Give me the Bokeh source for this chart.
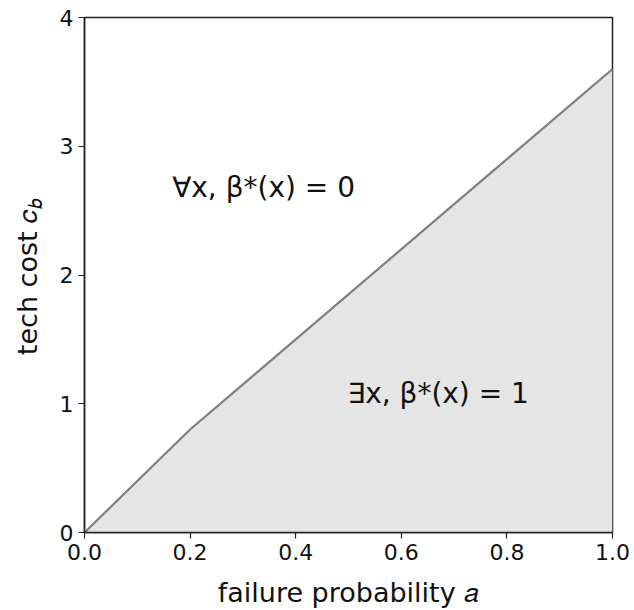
from bokeh.plotting import figure
from bokeh.models import Range1d, FixedTicker, Label
from bokeh.layouts import row
from bokeh.embed import file_html
from bokeh.resources import INLINE
import math

# Boundary between the two regimes: failure probability vs. tech cost
alpha = [0.0, 0.2, 1.0]
cost = [0.0, 0.8, 3.6]
zeros = [0.0, 0.0, 0.0]

x_ticks = [0.0, 0.2, 0.4, 0.6, 0.8, 1.0]
x_tick_labels = ["0.0", "0.2", "0.4", "0.6", "0.8", "1.0"]
y_ticks = [0, 1, 2, 3, 4]

FONT = "DejaVu Sans"
INK = "#111111"
TITLE_W = 50
FRAME_TOP, FRAME_BOTTOM = 17, 533

# narrow strip on the left that carries the y-axis title (c with subscript b);
# its frame lines up with the main frame, so its y range runs in pixels from the top
strip = figure(width=TITLE_W, height=610, output_backend="svg", toolbar_location=None,
               x_range=Range1d(0, TITLE_W), y_range=Range1d(FRAME_BOTTOM, FRAME_TOP),
               min_border=0)
strip.axis.visible = False
strip.grid.visible = False
strip.outline_line_color = None
strip.add_layout(Label(x=27, y=282, text="tech cost 𝑐", angle=math.pi / 2,
                       text_font=FONT, text_font_size="27px", text_color=INK,
                       text_align="center", text_baseline="middle"))
strip.add_layout(Label(x=34.5, y=203, text="𝑏", angle=math.pi / 2,
                       text_font=FONT, text_font_size="19px", text_color=INK,
                       text_align="center", text_baseline="middle"))

p = figure(width=634 - TITLE_W, height=610, output_backend="svg", toolbar_location=None,
           x_range=Range1d(0, 1), y_range=Range1d(0, 4),
           min_border_left=84 - TITLE_W, min_border_right=22,
           min_border_top=FRAME_TOP, min_border_bottom=610 - FRAME_BOTTOM)
p.grid.visible = False
p.background_fill_color = "white"
p.border_fill_color = "white"
p.outline_line_color = "#222222"
p.outline_line_width = 1.5

# shaded region below the boundary
p.varea(x=alpha, y1=zeros, y2=cost, fill_color="#e5e5e5")
p.line(x=alpha, y=cost, line_color="#808080", line_width=2.2)

for ax in (p.xaxis[0], p.yaxis[0]):
    ax.major_tick_out = 6
    ax.major_tick_in = 0
    ax.minor_tick_out = 0
    ax.minor_tick_in = 0
    ax.axis_line_color = "#222222"
    ax.axis_line_width = 1.5
    ax.major_tick_line_color = "#222222"
    ax.major_tick_line_width = 1.2
    ax.major_label_text_font = FONT
    ax.major_label_text_font_size = "22px"
    ax.major_label_text_color = INK
    ax.axis_label_text_font = FONT
    ax.axis_label_text_font_size = "27px"
    ax.axis_label_text_font_style = "normal"
    ax.axis_label_text_color = INK

p.xaxis.ticker = FixedTicker(ticks=x_ticks)
p.xaxis.major_label_overrides = {t: s for t, s in zip(x_ticks, x_tick_labels)}
p.yaxis.ticker = FixedTicker(ticks=y_ticks)
p.xaxis.axis_label = "failure probability 𝑎"
p.xaxis.axis_label_standoff = 14

p.add_layout(Label(x=0.166, y=2.68, text="∀x, β*(x) = 0", text_font=FONT,
                   text_font_size="28px", text_color=INK,
                   text_baseline="alphabetic"))
p.add_layout(Label(x=0.498, y=1.078, text="∃x, β*(x) = 1", text_font=FONT,
                   text_font_size="28px", text_color=INK,
                   text_baseline="alphabetic"))

open("out.html", "w").write(file_html(row(strip, p), INLINE))
